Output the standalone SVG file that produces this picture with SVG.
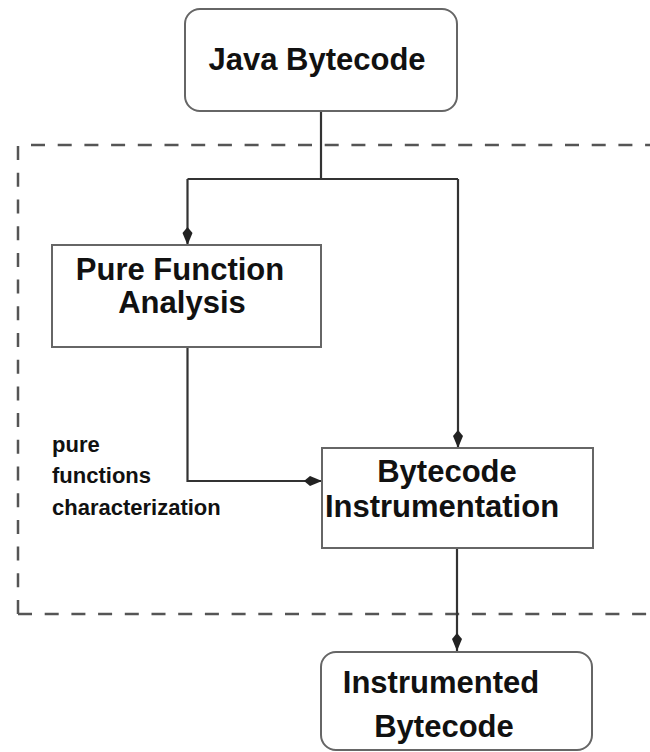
<svg xmlns="http://www.w3.org/2000/svg" width="650" height="752" viewBox="0 0 650 752">
<style>
.box{fill:#fff;stroke:#666;stroke-width:2}
.t{font-family:"Liberation Sans",Arial,sans-serif;font-weight:bold;font-size:31px;fill:#111;text-anchor:middle}
.lbl{font-family:"Liberation Sans",Arial,sans-serif;font-weight:bold;font-size:22px;fill:#111}
.dash{fill:none;stroke:#555;stroke-width:2.5;stroke-dasharray:14 12.7}
.c{fill:none;stroke:#333;stroke-width:2.2}
</style>
<defs>
<marker id="ah" markerUnits="userSpaceOnUse" markerWidth="24" markerHeight="14" viewBox="-20 -7 22 14" refX="0" refY="0" orient="auto">
<path d="M0,0 L-12,-5 L-18,0 L-12,5 Z" fill="#222"/>
</marker>
</defs>
<rect width="650" height="752" fill="#fff"/>
<g id="boundary">
<path class="dash" d="M18,614 V145"/>
<path class="dash" d="M18,614 H650"/>
<path class="dash" d="M31,145 H650"/>
</g>
<g id="connectors">
<path class="c" d="M321,111 V179"/>
<path class="c" d="M187.5,179 H458"/>
<path class="c" d="M187.5,179 V245" marker-end="url(#ah)"/>
<path class="c" d="M458,179 V448" marker-end="url(#ah)"/>
<path class="c" d="M187.5,347 V481 H322" marker-end="url(#ah)"/>
<path class="c" d="M457,548 V651" marker-end="url(#ah)"/>
</g>
<g id="java-bytecode">
<rect class="box" x="185" y="9" width="272" height="102" rx="15"/>
<text class="t" x="317" y="70">Java Bytecode</text>
</g>
<g id="pure-function-analysis">
<rect class="box" x="52" y="245" width="269" height="102"/>
<text class="t" x="180" y="280">Pure Function</text>
<text class="t" x="182" y="313">Analysis</text>
</g>
<g id="label">
<text class="lbl" x="52" y="452">pure</text>
<text class="lbl" x="52" y="483">functions</text>
<text class="lbl" x="52" y="515">characterization</text>
</g>
<g id="bytecode-instrumentation">
<rect class="box" x="322" y="448" width="271" height="100"/>
<text class="t" x="447" y="482">Bytecode</text>
<text class="t" x="442" y="517">Instrumentation</text>
</g>
<g id="instrumented-bytecode">
<rect class="box" x="321" y="652" width="271" height="98" rx="15"/>
<text class="t" x="441" y="693">Instrumented</text>
<text class="t" x="444" y="737">Bytecode</text>
</g>
</svg>
